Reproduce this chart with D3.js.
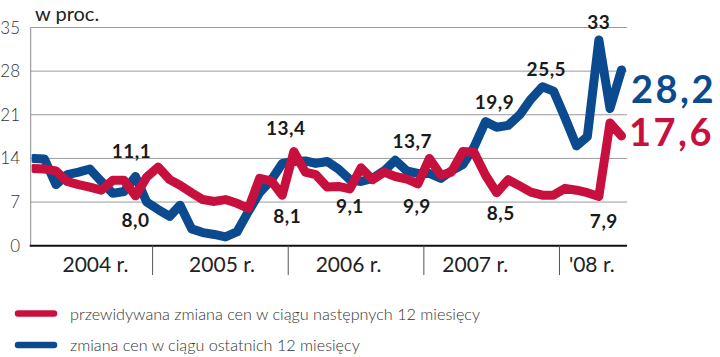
<!DOCTYPE html>
<html><head><meta charset="utf-8">
<script src="https://cdn.jsdelivr.net/npm/d3@7"></script>
<style>
html,body{margin:0;padding:0;background:#fff;}
svg{display:block;}
</style></head>
<body>
<svg id="c" width="720" height="357"></svg>
<script>
// ---- data ----
const unit = "w proc.";
const yTicks = [0, 7, 14, 21, 28, 35];
const yearLabels = ["2004 r.", "2005 r.", "2006 r.", "2007 r.", "'08 r."];
const yearBreaks = [2005, 2006, 2007, 2008];
const firstMonth = [2004, 1]; // Feb 2004 (0-based month)
// zmiana cen w ciągu ostatnich 12 miesięcy (monthly, Feb 2004 - Jun 2008)
const pastChange = [14.0, 13.9, 9.8, 11.4, 11.8, 12.3, 10.3, 8.4, 8.7, 11.1, 7.0,
  5.8, 4.7, 6.5, 2.7, 2.1, 1.8, 1.4, 2.2, 5.5, 8.5, 10.5, 13.2,
  13.5, 13.6, 13.2, 13.5, 12.3, 10.6, 10.3, 10.8, 12.0, 13.7, 12.0, 11.6,
  11.6, 10.8, 12.0, 13.0, 15.8, 19.9, 19.0, 19.3, 21.0, 23.5, 25.5, 24.8,
  20.5, 16.0, 17.5, 33.0, 22.0, 28.2];
// przewidywana zmiana cen w ciągu następnych 12 miesięcy
const expectedChange = [12.4, 12.3, 12.0, 10.3, 9.8, 9.4, 8.9, 10.5, 10.5, 8.0, 11.0,
  12.6, 10.6, 9.7, 8.5, 7.4, 7.1, 7.4, 6.8, 6.0, 10.8, 10.4, 8.1,
  15.1, 11.8, 11.4, 9.4, 9.5, 9.1, 12.5, 10.6, 11.8, 11.1, 10.7, 9.9,
  14.0, 11.3, 11.8, 15.1, 15.0, 11.3, 8.5, 10.6, 9.6, 8.6, 8.1, 8.1,
  9.2, 8.9, 8.5, 7.9, 19.7, 17.6];
const seriesNames = ["przewidywana zmiana cen w ciągu następnych 12 miesięcy",
                     "zmiana cen w ciągu ostatnich 12 miesięcy"];
const seriesColors = ["#c8103f", "#0c4a8f"];
// annotated points: [series (0 expected,1 past), index, text]
const notes = [
  [1, 9, "11,1"], [0, 9, "8,0"],
  [0, 23, "13,4"], [0, 22, "8,1"],
  [0, 28, "9,1"], [1, 32, "13,7"],
  [0, 34, "9,9"], [0, 41, "8,5"],
  [1, 40, "19,9"], [1, 45, "25,5"],
  [1, 50, "33"], [0, 50, "7,9"]
];
const endLabels = ["17,6", "28,2"];

// ---- drawing ----
const svg = d3.select("#c");
const L = 30.7, R = 627, T = 27.5, B = 245.7;
const x = d3.scaleTime()
  .domain([new Date(2004, 0, 1), new Date(2008, 6, 1)])
  .range([16.6, 627.1]);
const y = d3.scaleLinear().domain([0, 35]).range([B, T]);
const dateOf = i => new Date(firstMonth[0], firstMonth[1] + i, 16);

const light = "Lato, 'Open Sans', sans-serif";
const bold = "Lato, 'Liberation Sans', sans-serif";

// grid
svg.append("g").selectAll("line").data(yTicks.filter(d => d > 0)).join("line")
  .attr("x1", L).attr("x2", R).attr("y1", d => y(d)).attr("y2", d => y(d))
  .attr("stroke", "#9a9a9a").attr("stroke-width", 1);
// left axis line
svg.append("line").attr("x1", L).attr("x2", L).attr("y1", T).attr("y2", B)
  .attr("stroke", "#8a8a8a").attr("stroke-width", 1);

// y tick labels
svg.append("g").selectAll("text").data(yTicks).join("text")
  .attr("x", 20).attr("y", d => y(d) + 6)
  .attr("text-anchor", "end")
  .attr("font-family", light).attr("font-weight", 300)
  .attr("font-size", 17).attr("fill", "#333")
  .text(d => d);

// unit
svg.append("text").attr("x", 35).attr("y", 20.5)
  .attr("font-family", light).attr("font-size", 20).attr("fill", "#222")
  .text(unit);

// clip
svg.append("clipPath").attr("id", "clip").append("rect")
  .attr("x", L + 1).attr("y", 0).attr("width", 720 - L).attr("height", B);

const line = d3.line().x((d, i) => x(dateOf(i))).y(d => y(d));
const plot = svg.append("g").attr("clip-path", "url(#clip)");
[pastChange, expectedChange].forEach((s, k) => {
  plot.append("path").datum(s)
    .attr("d", line)
    .attr("fill", "none")
    .attr("stroke", seriesColors[1 - k])
    .attr("stroke-width", 9)
    .attr("stroke-linejoin", "round")
    .attr("stroke-linecap", "round");
});

// bottom axis
svg.append("line").attr("x1", L - 1).attr("x2", R).attr("y1", B).attr("y2", B)
  .attr("stroke", "#111").attr("stroke-width", 2);
svg.append("g").selectAll("line").data(yearBreaks).join("line")
  .attr("x1", d => x(new Date(d, 0, 1))).attr("x2", d => x(new Date(d, 0, 1)))
  .attr("y1", B).attr("y2", 275)
  .attr("stroke", "#555").attr("stroke-width", 1);
const band = d3.scaleBand().domain(yearLabels).range([62.5, 695.5]);
svg.append("g").selectAll("text").data(yearLabels).join("text")
  .attr("x", d => band(d)).attr("y", 272)
  .attr("font-family", light).attr("font-size", 21).attr("fill", "#222")
  .text(d => d);

// point annotations (offsets of the text from its point)
const noteOffsets = [[-4, -18.6], [0, 31], [-8, -16.6], [5, 27.7], [0, 24], [17, -12.4],
  [-1, 29], [4, 27.3], [9, -12.7], [4, -10.8], [0, -11], [5, 31.5]];
const seriesArr = [expectedChange, pastChange];
svg.append("g").selectAll("text").data(notes).join("text")
  .attr("x", (d, i) => x(dateOf(d[1])) + noteOffsets[i][0])
  .attr("y", (d, i) => y(seriesArr[d[0]][d[1]]) + noteOffsets[i][1])
  .attr("text-anchor", "middle")
  .attr("font-family", bold).attr("font-weight", 700)
  .attr("font-size", 19).attr("letter-spacing", 0.5).attr("fill", "#1a1a1a")
  .text(d => d[2]);

// end labels
svg.append("text").attr("x", 631).attr("y", 103)
  .attr("font-family", bold).attr("font-weight", 700).attr("font-size", 38)
  .attr("letter-spacing", 2.5).attr("fill", seriesColors[1]).text(endLabels[1]);
svg.append("text").attr("x", 629).attr("y", 146)
  .attr("font-family", bold).attr("font-weight", 700).attr("font-size", 38)
  .attr("letter-spacing", 2.5).attr("fill", seriesColors[0]).text(endLabels[0]);

// legend
const lg = svg.append("g");
seriesNames.forEach((n, k) => {
  const yy = 313.5 + k * 31.5;
  lg.append("line").attr("x1", 18).attr("x2", 54).attr("y1", yy).attr("y2", yy)
    .attr("stroke", seriesColors[k]).attr("stroke-width", 6.5).attr("stroke-linecap", "round");
  lg.append("text").attr("x", 70).attr("y", yy + 6)
    .attr("font-family", light).attr("font-weight", 300).attr("font-size", 16.2).attr("fill", "#333")
    .text(n);
});
</script>
</body></html>
